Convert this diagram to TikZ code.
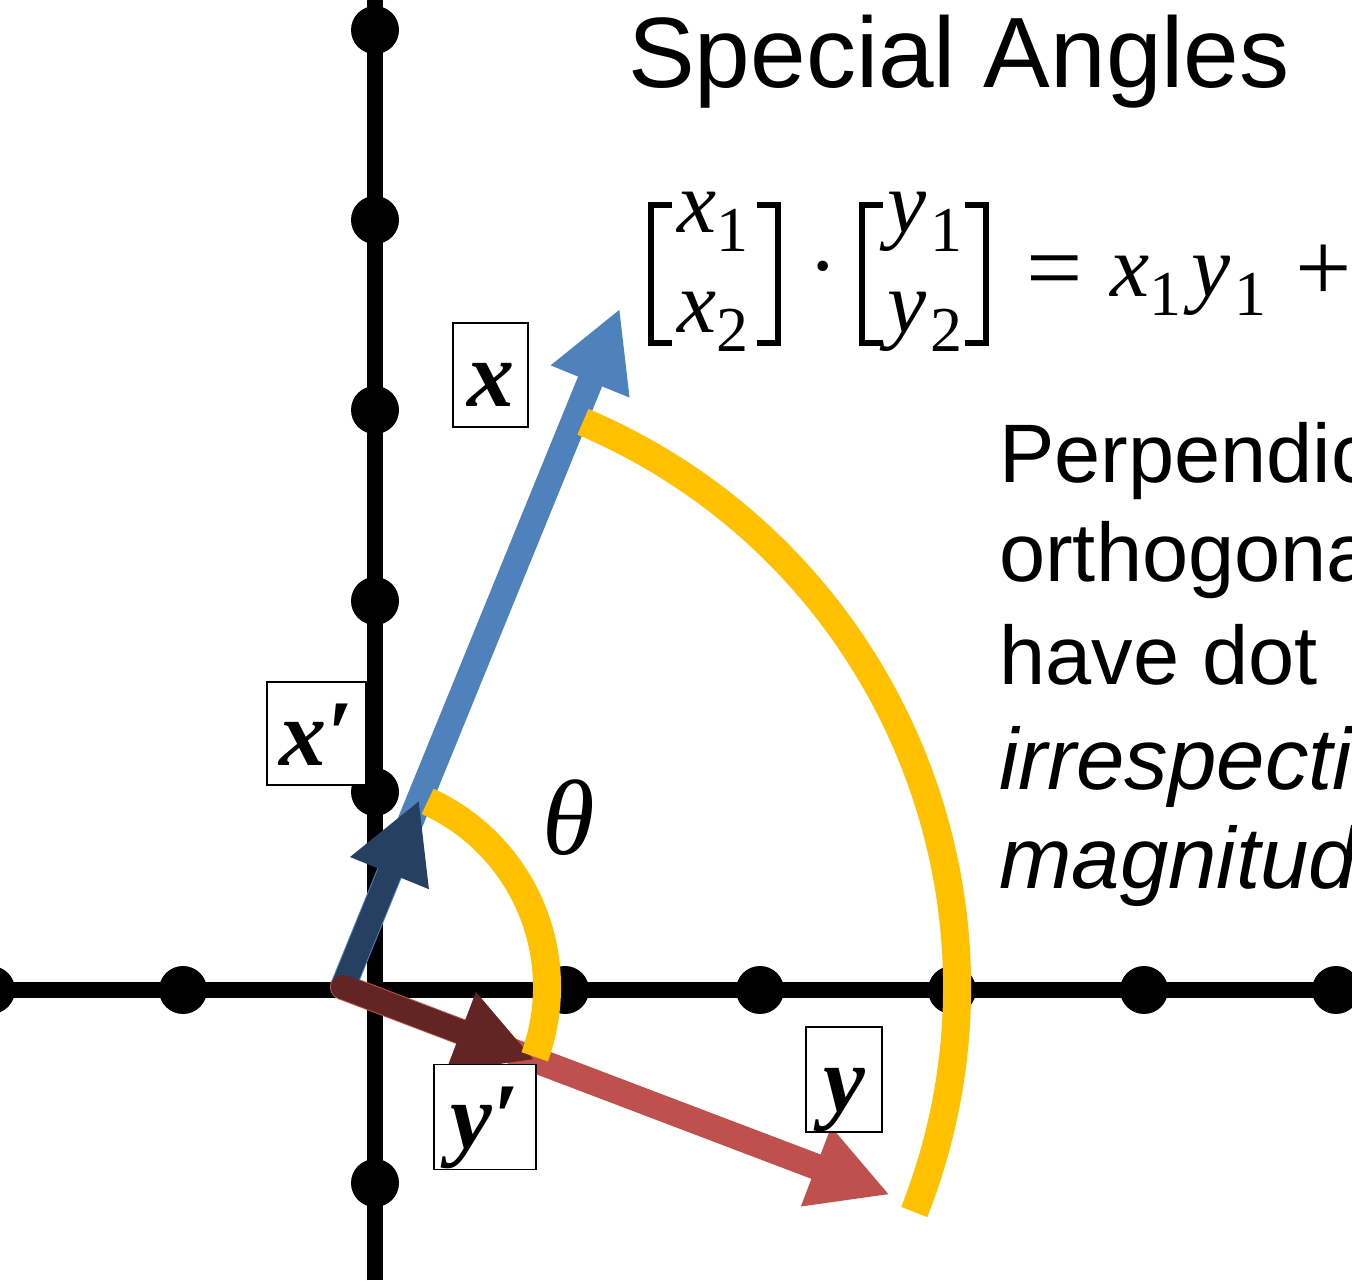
\documentclass[tikz,border=0pt]{standalone}
\usepackage{fontspec}
\setmainfont{Liberation Sans}
\newfontfamily\serif{Liberation Serif}
\usetikzlibrary{arrows.meta}
\definecolor{vblue}{HTML}{4F81BD}
\definecolor{vred}{HTML}{C0504D}
\definecolor{vdblue}{HTML}{254061}
\definecolor{vdred}{HTML}{632523}
\definecolor{vgold}{HTML}{FFC000}
\newcommand\subs[1]{\raisebox{-19pt}{\fontsize{64}{64}\selectfont #1}}
\begin{document}
\begin{tikzpicture}[x=1pt,y=1pt,
  axisline/.style={line width=16pt, black},
  vec/.style={line width=26pt, line cap=round, -{Triangle[length=79pt,width=79pt]}},
  goldarc/.style={vgold, line width=28pt},
  lbl/.style={draw, line width=1.5pt, fill=white, inner sep=0pt,
    font=\serif\bfseries\itshape\fontsize{94}{100}\selectfont, text height=64pt, text depth=0pt},
  bodytxt/.style={anchor=base west, inner sep=0pt, font=\fontsize{83}{100}\selectfont},
  bodyit/.style={bodytxt, font=\itshape\fontsize{87}{100}\selectfont},
  eqtxt/.style={anchor=base west, inner sep=0pt, font=\serif\fontsize{88}{90}\selectfont},
  eqop/.style={anchor=base, inner sep=0pt, font=\serif\fontsize{100}{100}\selectfont},
  brk/.style={line width=5.5pt, line join=miter}
]
\useasboundingbox (0,0) rectangle (1352,1280);
\clip (0,0) rectangle (1352,1280);

% axes
\draw[axisline] (0,290) -- (1352,290);
\draw[axisline] (375,0) -- (375,1280);
\foreach \yy in {1250,1060,870,679,488,97} \fill (375,\yy) circle[radius=24];
\foreach \xx in {-9,183,565,760,952,1144,1336} \fill (\xx,290) circle[radius=24];

% vectors
\coordinate (O) at (343,293);
\path (O) ++(67.8:733) coordinate (xt);
\path (O) ++(-20.8:585) coordinate (yt);
\path (O) ++(67.8:202) coordinate (xpt);
\path (O) ++(-20.8:205) coordinate (ypt);
\draw[vec, vblue] (O) -- (xt);
\draw[vec, vred] (O) -- (yt);
\draw[vec, vdblue, line width=24pt] (O) -- (xpt);
\draw[vec, vdred, line width=24pt] (O) -- (ypt);

% angle arcs
\path (O) ++(67:614) coordinate (a1s);
\draw[goldarc] (a1s) arc[start angle=67, end angle=-21.5, radius=614];
\path (O) ++(65.5:204) coordinate (a2s);
\draw[goldarc] (a2s) arc[start angle=65.5, end angle=-20, radius=204];

% labels
\node[lbl, minimum width=75pt, minimum height=104pt] (lx) at (490.5,905) {x};
\node[lbl, minimum width=99pt, minimum height=103pt] (lxp) at (316.5,546.5) {x′};
\node[lbl, minimum width=102pt, minimum height=105pt] (lyp) at (485,163) {y′};
\node[lbl, minimum width=76pt, minimum height=105pt] (ly) at (844,200.5) {y};
\node[inner sep=0pt, font=\serif\itshape\fontsize{107}{110}\selectfont] (th) at (569,462) {θ};

% title
\node[anchor=base west, inner sep=0pt, font=\fontsize{100}{120}\selectfont] (title) at (628,1192) {Special Angles};

% equation
\draw[brk] (672,1075) -- (651,1075) -- (651,937) -- (672,937);
\draw[brk] (757,1075) -- (778,1075) -- (778,937) -- (757,937);
\draw[brk] (883,1075) -- (862,1075) -- (862,937) -- (883,937);
\draw[brk] (965,1075) -- (986,1075) -- (986,937) -- (965,937);
\node[eqtxt] (e11) at (677,1047) {{\itshape x}\subs{1}};
\node[eqtxt] (e12) at (677,947) {{\itshape x}\subs{2}};
\node[eqtxt] (e21) at (887,1047) {{\itshape y}\kern4pt\subs{1}};
\node[eqtxt] (e22) at (887,947) {{\itshape y}\kern4pt\subs{2}};
\node[anchor=base, inner sep=0pt, font=\serif\fontsize{88}{90}\selectfont] (edot) at (823,984) {·};
\node[eqop] (eeq) at (1054.5,978) {=};
\node[eqtxt] (erhs) at (1110,983) {{\itshape x}\subs{1}\kern10pt{\itshape y}\kern4pt\subs{1}};
\node[eqop] (eplus) at (1323.5,978) {+};

% body text
\node[bodytxt] (b1) at (999,797) {Perpendicular};
\node[bodytxt] (b2) at (999,698) {orthogonal};
\node[bodytxt] (b3) at (999,595) {have dot};
\node[bodyit] (b4) at (999,490) {irrespective};
\node[bodyit] (b5) at (999,391) {magnitude};
\end{tikzpicture}
\end{document}
